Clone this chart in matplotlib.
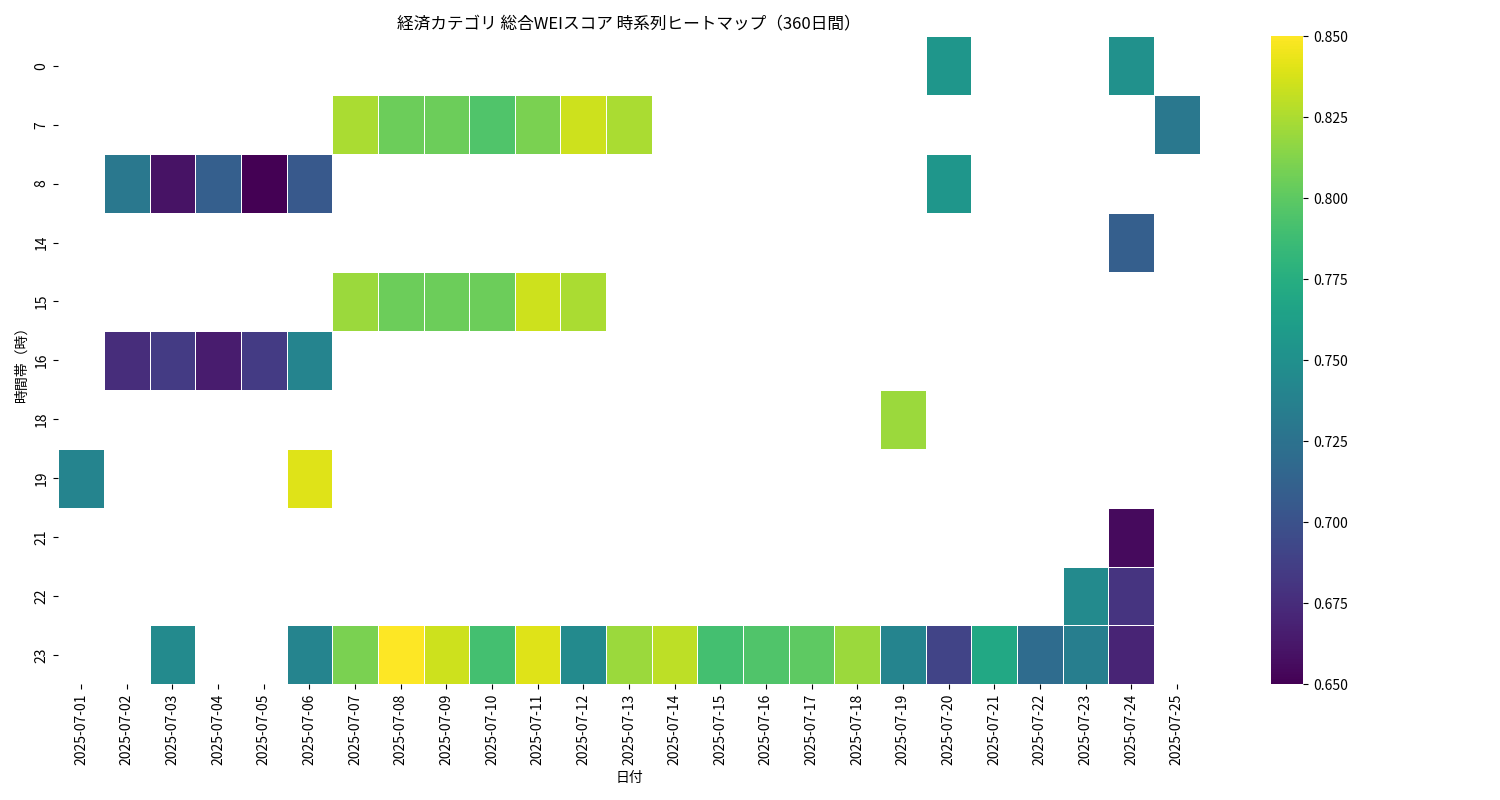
import numpy as np
import pandas as pd
import matplotlib
matplotlib.use("Agg")
import matplotlib.pyplot as plt
import seaborn as sns

plt.rcParams["font.family"] = ["Noto Sans CJK JP", "DejaVu Sans"]

dates = [f"2025-07-{d:02d}" for d in range(1, 26)]
hours = [0, 7, 8, 14, 15, 16, 18, 19, 21, 22, 23]

# (hour, day) -> score
row_0 = {20: 0.755, 24: 0.75}
row_7 = {7: 0.825, 8: 0.805, 9: 0.805, 10: 0.795, 11: 0.81, 12: 0.835, 13: 0.825, 25: 0.73}
row_8 = {2: 0.73, 3: 0.66, 4: 0.71, 5: 0.65, 6: 0.705, 20: 0.755}
row_14 = {24: 0.71}
row_15 = {7: 0.82, 8: 0.805, 9: 0.805, 10: 0.805, 11: 0.835, 12: 0.825}
row_16 = {2: 0.675, 3: 0.685, 4: 0.665, 5: 0.685, 6: 0.74}
row_18 = {19: 0.82}
row_19 = {1: 0.74, 6: 0.84}
row_21 = {24: 0.655}
row_22 = {23: 0.745, 24: 0.68}
row_23 = {3: 0.745, 6: 0.74, 7: 0.81, 8: 0.85, 9: 0.835, 10: 0.79, 11: 0.84, 12: 0.745,
          13: 0.82, 14: 0.83, 15: 0.79, 16: 0.795, 17: 0.80, 18: 0.82, 19: 0.74,
          20: 0.69, 21: 0.77, 22: 0.72, 23: 0.735, 24: 0.67}
rows = [row_0, row_7, row_8, row_14, row_15, row_16, row_18, row_19, row_21, row_22, row_23]

data = np.full((len(hours), len(dates)), np.nan)
for i, r in enumerate(rows):
    for d, v in r.items():
        data[i, d - 1] = v
df = pd.DataFrame(data, index=hours, columns=dates)

fig, ax = plt.subplots(figsize=(15, 8))
sns.heatmap(df, cmap="viridis", vmin=0.65, vmax=0.85, linewidths=0.5, linecolor="white", ax=ax)
ax.set_title("経済カテゴリ 総合WEIスコア 時系列ヒートマップ（360日間）")
ax.set_xlabel("日付")
ax.set_ylabel("時間帯（時）")
plt.tight_layout()
plt.savefig("out.png", dpi=100)
